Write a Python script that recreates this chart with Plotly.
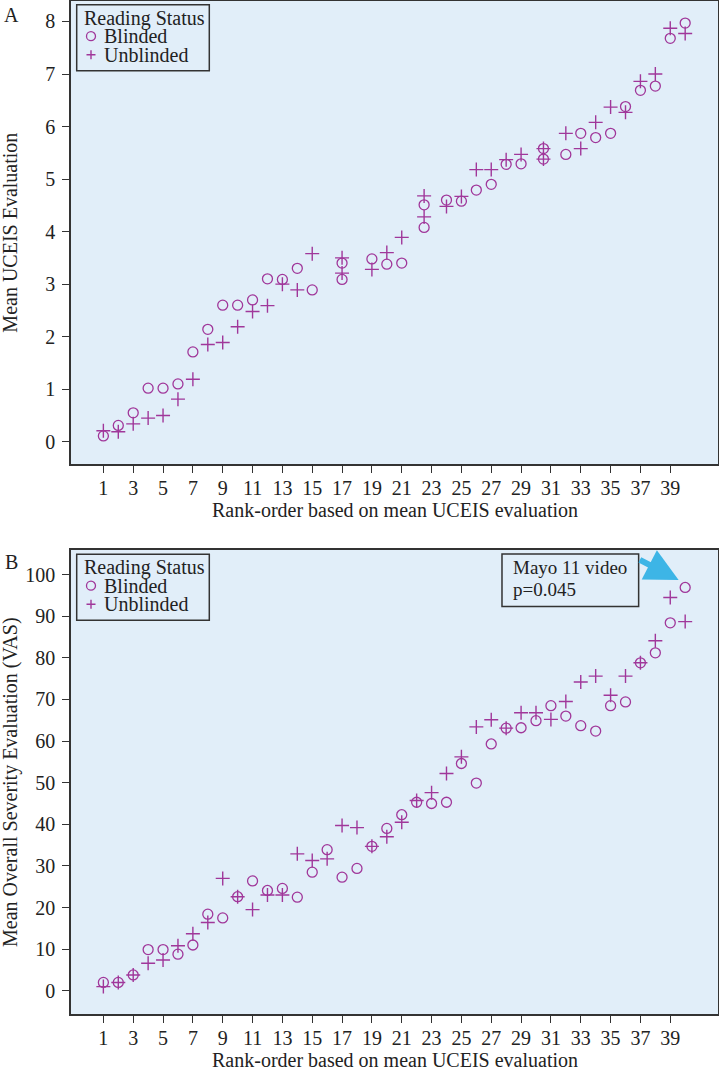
import plotly.graph_objects as go

# ---------------- data ----------------
# Panel A: mean UCEIS evaluation (tied ranks share an averaged position)
rank_a = [1, 2, 3, 4, 5, 6, 7, 8, 9, 10, 11, 12, 13, 14, 15, 17, 17, 19, 20, 21,
          22.5, 22.5, 24, 25, 26, 27, 28, 29, 30.5, 30.5, 32, 33, 34, 35, 36, 37, 38, 39, 40]
ucei_blinded = [0.11, 0.31, 0.55, 1.02, 1.02, 1.10, 1.71, 2.14, 2.60, 2.60, 2.70, 3.10, 3.09,
                3.30, 2.89, 3.40, 3.09, 3.48, 3.38, 3.40, 4.08, 4.51, 4.60, 4.58, 4.79, 4.90,
                5.28, 5.29, 5.58, 5.38, 5.47, 5.87, 5.79, 5.87, 6.38, 6.69, 6.77, 7.68, 7.97]
ucei_unblinded = [0.21, 0.19, 0.34, 0.45, 0.50, 0.81, 1.19, 1.85, 1.89, 2.19, 2.48, 2.59, 3.00,
                  2.89, 3.58, 3.50, 3.21, 3.28, 3.60, 3.89, 4.28, 4.68, 4.48, 4.67, 5.18, 5.18,
                  5.37, 5.47, 5.58, 5.38, 5.87, 5.58, 6.08, 6.37, 6.27, 6.86, 7.00, 7.87, 7.77]

# Panel B: mean overall severity evaluation (VAS)
rank_b = list(range(1, 41))
vas_blinded = [2.0, 2.0, 3.8, 9.9, 9.9, 8.8, 11.0, 18.4, 17.5, 22.6, 26.4, 24.1, 24.6, 22.5,
               28.5, 33.9, 27.3, 29.4, 34.7, 39.0, 42.3, 45.3, 45.0, 45.3, 54.6, 49.9, 59.3,
               63.1, 63.2, 64.9, 68.5, 66.0, 63.7, 62.4, 68.5, 69.4, 78.8, 81.2, 88.4, 96.9]
vas_unblinded = [1.0, 2.0, 3.8, 6.6, 7.4, 10.8, 13.7, 16.4, 27.0, 22.6, 19.5, 23.0, 23.0, 32.9,
                 31.3, 31.7, 39.7, 39.2, 34.7, 37.0, 40.5, 45.7, 47.6, 52.2, 56.2, 63.4, 65.1,
                 63.1, 66.8, 66.8, 65.2, 69.5, 74.2, 75.6, 71.0, 75.6, 78.8, 84.1, 94.5, 88.7]

x_ticks = list(range(1, 40, 2))
ya_ticks = list(range(0, 9))
yb_ticks = list(range(0, 101, 10))

series_names = ["Blinded", "Unblinded"]
legend_title = "Reading Status"
x_title = "Rank-order based on mean UCEIS evaluation"
ya_title = "Mean UCEIS Evaluation"
yb_title = "Mean Overall Severity Evaluation (VAS)"
callout_lines = ["Mayo 11 video", "p=0.045"]

# ---------------- style ----------------
FONT = "Liberation Serif"
MC = "#A0379A"
BG = "#E1EEF9"
LINE = "#333333"
TXT = "#222222"
W, H = 719, 1072
ML, MR, MT, MB = 71, 1, 1, 58
PW = W - ML - MR
PH = H - MT - MB


def xp(px):
    return (px - ML) / PW


def yp(py):
    return (H - MB - py) / PH


fig = go.Figure()


def add_pair(x, yb, yu, xa, ya):
    fig.add_trace(go.Scatter(x=x, y=yb, mode="markers", name=series_names[0], xaxis=xa, yaxis=ya,
                             showlegend=False,
                             marker=dict(symbol="circle-open", size=10, color=MC,
                                         line=dict(width=1.3, color=MC))))
    fig.add_trace(go.Scatter(x=x, y=yu, mode="markers", name=series_names[1], xaxis=xa, yaxis=ya,
                             showlegend=False,
                             marker=dict(symbol="cross-thin-open", size=10, color=MC,
                                         line=dict(width=1.4, color=MC))))


add_pair(rank_a, ucei_blinded, ucei_unblinded, "x", "y")
add_pair(rank_b, vas_blinded, vas_unblinded, "x2", "y2")

axis_common = dict(showline=True, linecolor=LINE, linewidth=1.5, mirror=True,
                   ticks="outside", ticklen=7, tickwidth=1.2, tickcolor=LINE,
                   showgrid=False, zeroline=False, automargin=False,
                   tickfont=dict(family=FONT, size=20, color=TXT))

xr = [-1.17, 42.2]
fig.update_layout(
    width=W, height=H,
    margin=dict(l=ML, r=MR, t=MT, b=MB),
    paper_bgcolor="white", plot_bgcolor=BG,
    font=dict(family=FONT, size=20, color=TXT),
    showlegend=False,
    xaxis=dict(domain=[0, 1], anchor="y", range=xr, tickvals=x_ticks,
               ticklabelstandoff=-2, **axis_common),
    yaxis=dict(domain=[yp(464.3), 1], anchor="x", range=[-0.43, 8.39], tickvals=ya_ticks,
               ticklabelstandoff=3, **axis_common),
    xaxis2=dict(domain=[0, 1], anchor="y2", range=xr, tickvals=x_ticks,
                ticklabelstandoff=-2, **axis_common),
    yaxis2=dict(domain=[0, yp(550)], anchor="x2", range=[-5.58, 105.9], tickvals=yb_ticks,
                ticklabelstandoff=3, **axis_common),
)


def text(t, x, y, xanchor="center", size=20, angle=0, xref="paper", yref="paper", pad=0):
    fig.add_annotation(text=t, xref=xref, yref=yref, x=x, y=y, xanchor=xanchor,
                       yanchor="middle", showarrow=False, textangle=angle, borderpad=pad,
                       font=dict(family=FONT, size=size, color=TXT))


# panel letters, axis titles
text("A", xp(11), yp(15))
text("B", xp(11), yp(562))
text(ya_title, xp(10), (yp(464.3) + 1) / 2, angle=-90)
text(yb_title, xp(10), yp(550) / 2, angle=-90)
text(x_title, 0.5, yp(510))
text(x_title, 0.5, yp(1060))


# custom legends (box, symbols, labels)
def legend_box(top):
    fig.add_shape(type="rect", xref="paper", yref="paper",
                  x0=xp(76.7), x1=xp(209.3), y0=yp(top + 66), y1=yp(top),
                  line=dict(color=LINE, width=1.5), fillcolor=BG, layer="above")
    text(legend_title, xp(83.3), yp(top + 13.5), xanchor="left")
    # circle symbol
    fig.add_shape(type="circle", xref="paper", yref="paper",
                  xsizemode="pixel", ysizemode="pixel",
                  xanchor=xp(91), yanchor=yp(top + 31.5),
                  x0=-4.5, x1=4.5, y0=-4.5, y1=4.5,
                  line=dict(color=MC, width=1.3))
    text(series_names[0], xp(102.7), yp(top + 31.5), xanchor="left")
    # plus symbol
    fig.add_shape(type="path", xref="paper", yref="paper",
                  xsizemode="pixel", ysizemode="pixel",
                  xanchor=xp(91), yanchor=yp(top + 50),
                  path="M -4.5 0 L 4.5 0 M 0 -4.5 L 0 4.5",
                  line=dict(color=MC, width=1.4))
    text(series_names[1], xp(102.7), yp(top + 50), xanchor="left")


legend_box(4.7)
legend_box(554.2)

# Mayo 11 call-out box and arrow (panel B, data coordinates)
fig.add_shape(type="rect", xref="x2", yref="y2", x0=27.72, x1=36.88, y0=92.33, y1=104.95,
              line=dict(color=LINE, width=1.5), fillcolor=BG, layer="above")
text(callout_lines[0], 28.39, 101.6, xanchor="left", size=19, xref="x2", yref="y2")
text(callout_lines[1], 28.39, 96.3, xanchor="left", size=19, xref="x2", yref="y2")
fig.add_annotation(text="", xref="x2", yref="y2", x=39.56, y=98.7,
                   axref="x2", ayref="y2", ax=36.86, ay=103.7,
                   showarrow=True, arrowhead=2, arrowsize=1.1, arrowwidth=6,
                   arrowcolor="#3DB5E6", standoff=0)

# remove the browser's default page margin so the figure sits at the top-left corner
fig.write_html("out.html", config={"displayModeBar": False},
               post_script="document.body.style.margin='0';document.body.style.overflow='hidden';")
